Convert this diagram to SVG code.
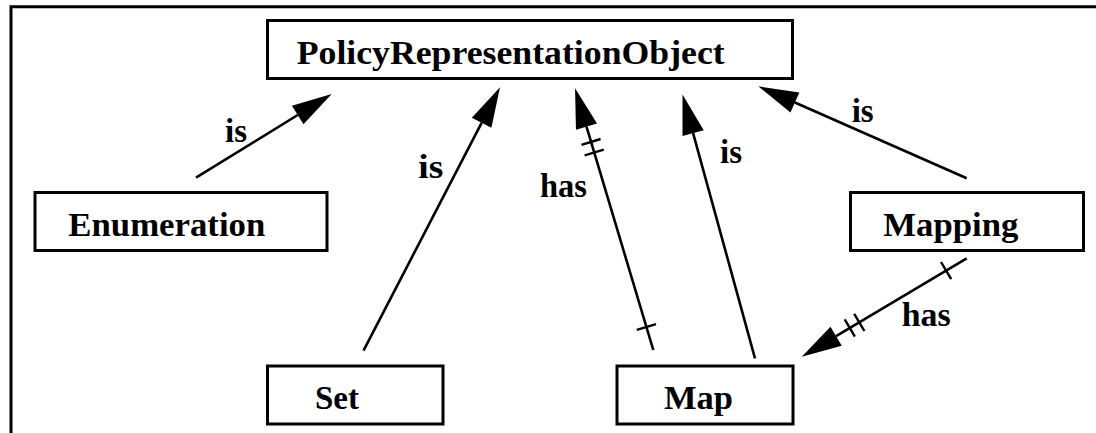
<svg xmlns="http://www.w3.org/2000/svg" width="1096" height="433" viewBox="0 0 1096 433">
  <style>
    .box { fill: #fff; stroke: #000; stroke-width: 3; }
    .lbl { font-weight: bold; font-size: 34px; fill: #000; }
    .edge { stroke: #000; stroke-width: 2.6; fill: none; }
    .tick { stroke: #000; stroke-width: 2.4; }
  </style>
  <defs>
    <!-- filled arrowhead, base sits on the line end, tip 40px beyond -->
    <marker id="head" markerUnits="userSpaceOnUse" viewBox="-1 -12 42 24" refX="0" refY="0" markerWidth="42" markerHeight="24" orient="auto">
      <path d="M0,-11 L40,0 L0,11 Z" fill="#000"/>
    </marker>
  </defs>

  <rect width="1096" height="433" fill="#fff"/>
  <!-- outer frame: top and left edges -->
  <path d="M11,433 V6.7 H1096" fill="none" stroke="#000" stroke-width="3"/>

  <g font-family="Liberation Serif, Times New Roman, serif">
  <g id="connectors">
    <!-- Enumeration is PolicyRepresentationObject -->
    <line class="edge" x1="196" y1="177.7" x2="297.7" y2="115" marker-end="url(#head)"/>
    <text class="lbl" x="225" y="141.7" textLength="22" lengthAdjust="spacingAndGlyphs">is</text>

    <!-- Set is PolicyRepresentationObject -->
    <line class="edge" x1="363.5" y1="350.7" x2="481.6" y2="122.8" marker-end="url(#head)"/>
    <text class="lbl" x="418.3" y="178.3" textLength="25" lengthAdjust="spacingAndGlyphs">is</text>

    <!-- Map has PolicyRepresentationObject -->
    <line class="edge" x1="653.3" y1="350" x2="586.5" y2="126.6" marker-end="url(#head)"/>
    <line class="tick" x1="581.5" y1="144.8" x2="600.6" y2="139"/>
    <line class="tick" x1="584.6" y1="155.4" x2="603.8" y2="149.6"/>
    <line class="tick" x1="636.8" y1="329.9" x2="656" y2="324.1"/>
    <text class="lbl" x="540" y="196.7" textLength="47" lengthAdjust="spacingAndGlyphs">has</text>

    <!-- Map is PolicyRepresentationObject -->
    <line class="edge" x1="755" y1="358.3" x2="693.1" y2="133.1" marker-end="url(#head)"/>
    <text class="lbl" x="720" y="163.3" textLength="22" lengthAdjust="spacingAndGlyphs">is</text>

    <!-- Mapping is PolicyRepresentationObject -->
    <line class="edge" x1="966.7" y1="178.3" x2="794.9" y2="102.5" marker-end="url(#head)"/>
    <text class="lbl" x="851.7" y="121.7" textLength="22" lengthAdjust="spacingAndGlyphs">is</text>

    <!-- Mapping has Map -->
    <line class="edge" x1="966.7" y1="258.3" x2="836.1" y2="336.2" marker-end="url(#head)"/>
    <line class="tick" x1="941" y1="262" x2="951.2" y2="279.2"/>
    <line class="tick" x1="844.7" y1="319.4" x2="854.9" y2="336.6"/>
    <line class="tick" x1="854.2" y1="313.8" x2="864.4" y2="331"/>
    <text class="lbl" x="901.7" y="326" textLength="49" lengthAdjust="spacingAndGlyphs">has</text>
  </g>

  <g id="PolicyRepresentationObject">
    <rect class="box" x="267.5" y="20.5" width="525" height="58"/>
    <text class="lbl" x="296.7" y="64" textLength="428" lengthAdjust="spacingAndGlyphs">PolicyRepresentationObject</text>
  </g>

  <g id="Enumeration">
    <rect class="box" x="35" y="192.5" width="292" height="58"/>
    <text class="lbl" x="68.3" y="236" textLength="197" lengthAdjust="spacingAndGlyphs">Enumeration</text>
  </g>

  <g id="Mapping">
    <rect class="box" x="850.5" y="192.5" width="233" height="58"/>
    <text class="lbl" x="883.3" y="236" textLength="135" lengthAdjust="spacingAndGlyphs">Mapping</text>
  </g>

  <g id="Set">
    <rect class="box" x="267.5" y="366" width="175.5" height="58"/>
    <text class="lbl" x="315" y="409" textLength="44" lengthAdjust="spacingAndGlyphs">Set</text>
  </g>

  <g id="Map">
    <rect class="box" x="617" y="366" width="176" height="58"/>
    <text class="lbl" x="664" y="409" textLength="69" lengthAdjust="spacingAndGlyphs">Map</text>
  </g>
  </g>
</svg>
